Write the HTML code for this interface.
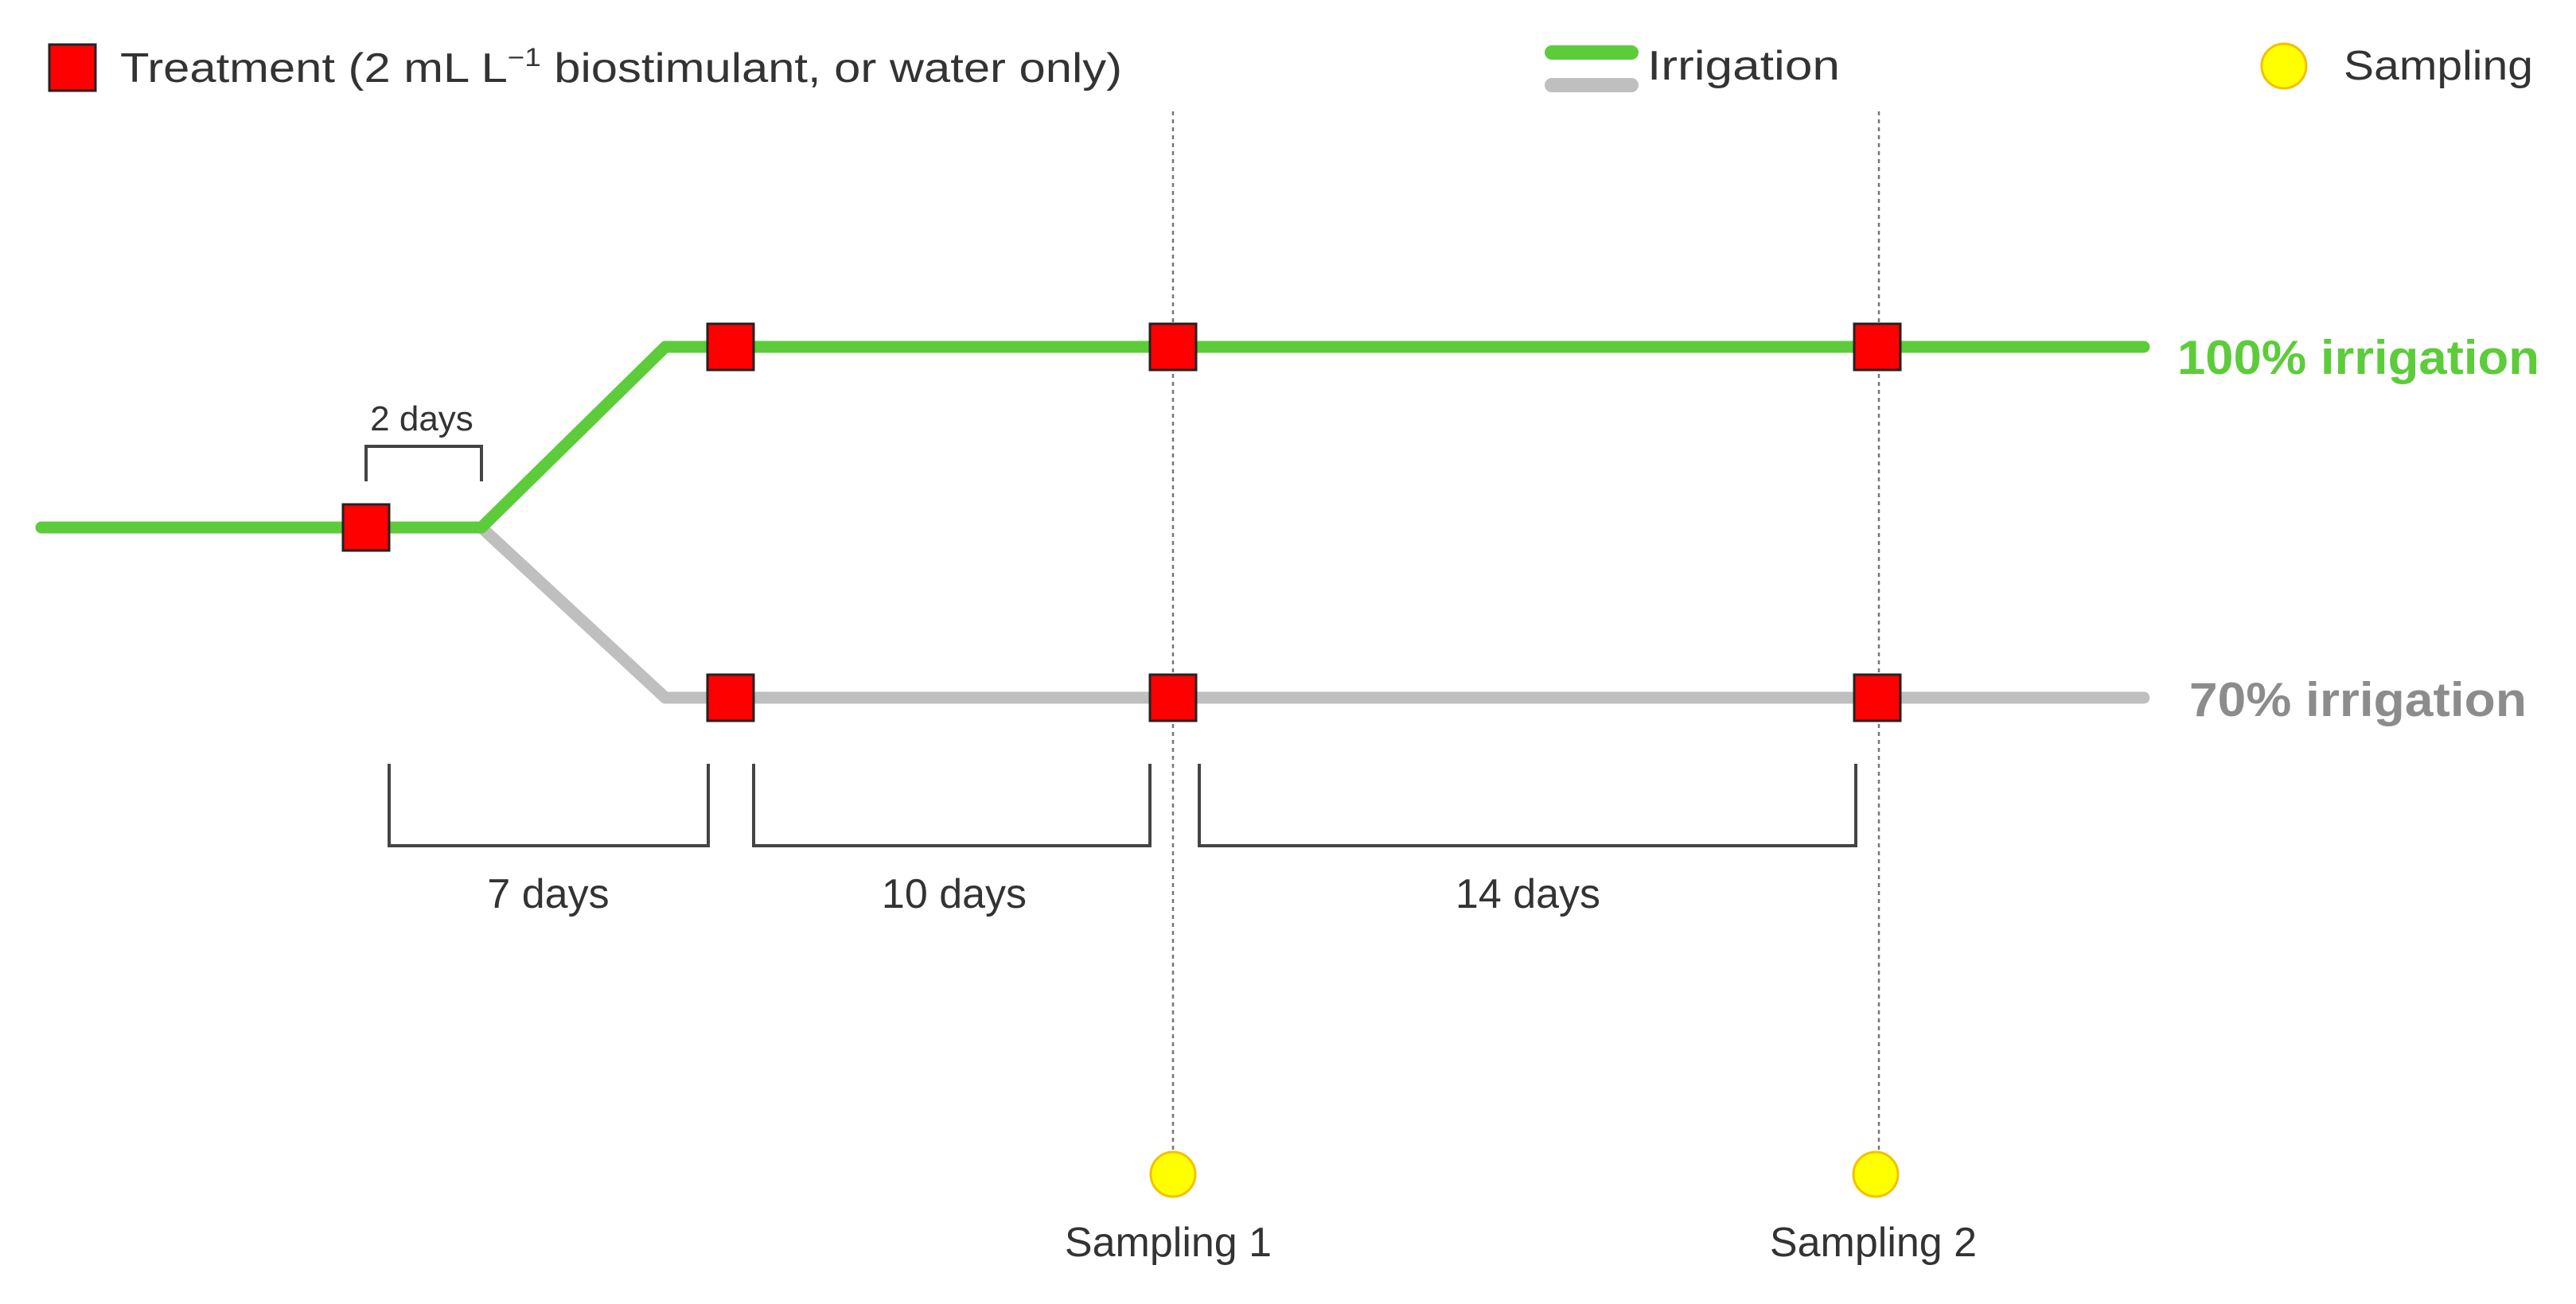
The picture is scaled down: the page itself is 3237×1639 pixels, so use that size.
<!DOCTYPE html>
<html><head><meta charset="utf-8"><style>
html,body{margin:0;padding:0;background:#fff;}
svg{display:block;}
text{font-family:"Liberation Sans",sans-serif;}
</style></head><body>
<svg width="3237" height="1639" viewBox="0 0 3237 1639" xmlns="http://www.w3.org/2000/svg">
<!-- Legend -->
<rect x="62" y="56" width="58" height="58" fill="#ff0000" stroke="#222" stroke-width="3"/>
<text x="151" y="103" font-size="52" fill="#333" textLength="1259" lengthAdjust="spacingAndGlyphs">Treatment (2 mL L<tspan font-size="32" dy="-20">−1</tspan><tspan dy="20"> biostimulant, or water only)</tspan></text>
<line x1="1950" y1="66" x2="2050" y2="66" stroke="#5ccc3a" stroke-width="18" stroke-linecap="round"/>
<line x1="1950" y1="107" x2="2050" y2="107" stroke="#bfbfbf" stroke-width="18" stroke-linecap="round"/>
<text x="2070" y="100" font-size="52" fill="#333" textLength="242" lengthAdjust="spacingAndGlyphs">Irrigation</text>
<circle cx="2870" cy="83" r="28" fill="#ffff00" stroke="#f5c000" stroke-width="3"/>
<text x="2945" y="100" font-size="52" fill="#333" textLength="238" lengthAdjust="spacingAndGlyphs">Sampling</text>

<!-- dotted verticals -->
<line x1="1474" y1="140" x2="1474" y2="1445" stroke="#777" stroke-width="2.5" stroke-dasharray="5,5"/>
<line x1="2361" y1="140" x2="2361" y2="1445" stroke="#777" stroke-width="2.5" stroke-dasharray="5,5"/>

<!-- lines -->
<polyline points="605,663 836,877 2694,877" fill="none" stroke="#bfbfbf" stroke-width="15" stroke-linecap="round" stroke-linejoin="round"/>
<polyline points="52,663 605,663 836,436 2694,436" fill="none" stroke="#5ccc3a" stroke-width="15" stroke-linecap="round" stroke-linejoin="round"/>

<!-- squares -->
<g fill="#ff0000" stroke="#222" stroke-width="3">
<rect x="431" y="634" width="58" height="58"/>
<rect x="889" y="407" width="58" height="58"/>
<rect x="1445" y="407" width="58" height="58"/>
<rect x="2330" y="407" width="58" height="58"/>
<rect x="889" y="848" width="58" height="58"/>
<rect x="1445" y="848" width="58" height="58"/>
<rect x="2330" y="848" width="58" height="58"/>
</g>

<!-- brackets -->
<g fill="none" stroke="#444" stroke-width="4">
<polyline points="460,605 460,561 605,561 605,605"/>
<polyline points="489,960 489,1063 890,1063 890,960"/>
<polyline points="947,960 947,1063 1445,1063 1445,960"/>
<polyline points="1507,960 1507,1063 2332,1063 2332,960"/>
</g>
<text x="530" y="541" font-size="44" fill="#333" text-anchor="middle">2 days</text>
<text x="689" y="1141" font-size="52" fill="#333" text-anchor="middle">7 days</text>
<text x="1199" y="1141" font-size="52" fill="#333" text-anchor="middle">10 days</text>
<text x="1920" y="1141" font-size="52" fill="#333" text-anchor="middle">14 days</text>

<!-- right labels -->
<text x="2736" y="470" font-size="60" fill="#5ccc3a" font-weight="bold" textLength="455" lengthAdjust="spacingAndGlyphs">100% irrigation</text>
<text x="2751" y="900" font-size="60" fill="#8c8c8c" font-weight="bold" textLength="424" lengthAdjust="spacingAndGlyphs">70% irrigation</text>

<!-- sampling -->
<circle cx="1474" cy="1476" r="28" fill="#ffff00" stroke="#f5c000" stroke-width="3"/>
<circle cx="2357" cy="1476" r="28" fill="#ffff00" stroke="#f5c000" stroke-width="3"/>
<text x="1468" y="1579" font-size="52" fill="#333" text-anchor="middle">Sampling 1</text>
<text x="2354" y="1579" font-size="52" fill="#333" text-anchor="middle">Sampling 2</text>
</svg>
</body></html>
